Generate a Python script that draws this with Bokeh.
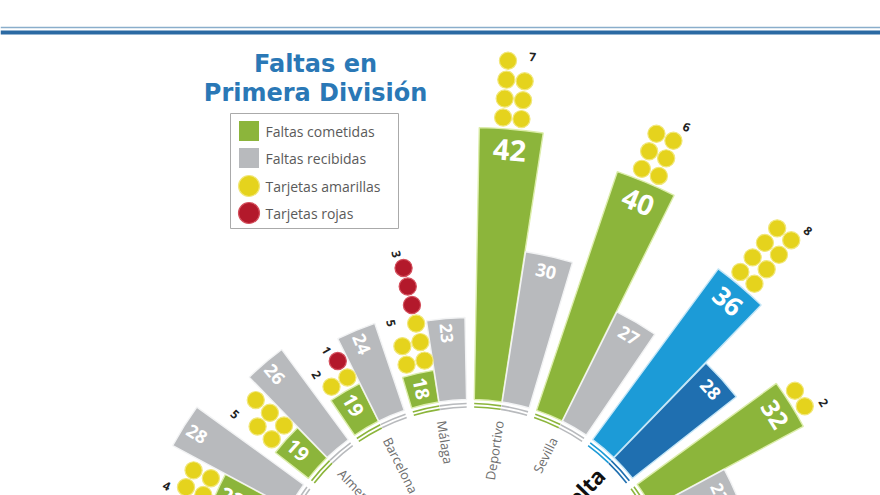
import math
from bokeh.plotting import figure
from bokeh.models import Range1d, ColumnDataSource
from bokeh.core.properties import value
from bokeh.embed import file_html
from bokeh.resources import INLINE

# ---------------- data ----------------
equipos = ["", "Almería", "Barcelona", "Málaga", "Deportivo", "Sevilla", "Celta", ""]
faltas_cometidas = [22, 19, 19, 18, 42, 40, 36, 32]
faltas_recibidas = [28, 26, 24, 23, 30, 27, 28, 23]
tarjetas_amarillas = [4, 5, 2, 5, 7, 6, 8, 2]
tarjetas_rojas = [0, 0, 1, 3, 0, 0, 0, 0]
equipo_destacado = "Celta"
titulo = ["Faltas en", "Primera División"]
leyenda = ["Faltas cometidas", "Faltas recibidas", "Tarjetas amarillas", "Tarjetas rojas"]

# ---------------- layout / style ----------------
W, H = 880, 495
CX, CY = 470.0, -110.0      # fan centre (data units = px)
R_ZERO = 58.0               # radius that corresponds to value 0
PX_PER = 10.0               # px per foul
R_BASE = 206.0              # visible base of bars
FIRST_DEG = 151.8
STEP_DEG = 17.65
HALF_DEG = 3.9
BAR_DEG = 7.7
DOT_R = 8.6
DOT_STEP = 19.0
COL_OFF = 9.2

GREEN, GREEN_EDGE = "#8cb53b", "#dcedaa"
GREY, GREY_EDGE = "#b8babd", "#f2f3f4"
LBLUE, DBLUE, BLUE_EDGE = "#1c9bd7", "#1f6fb0", "#c4e6f7"
YELLOW, YELLOW_EDGE = "#e5d31d", "#f1e77a"
RED, RED_EDGE = "#b3192b", "#d4505d"
TITLE_C = "#2a78b6"

p = figure(width=W, height=H, x_range=Range1d(0, W), y_range=Range1d(0, H),
           output_backend="svg", toolbar_location=None, min_border=0,
           x_axis_type=None, y_axis_type=None, outline_line_color=None)
p.grid.visible = False
p.background_fill_color = "white"
p.border_fill_color = "white"


def polar(r, deg):
    a = math.radians(deg)
    return CX + r * math.cos(a), CY + r * math.sin(a)


def perp(deg):
    a = math.radians(deg)
    return -math.sin(a), math.cos(a)   # counter-clockwise unit vector


wedge = dict(start=[], end=[], outer=[], fill=[], edge=[])
stripes = dict(start=[], end=[], r=[], color=[])
nums = dict(x=[], y=[], text=[], angle=[], fs=[])
dots = dict(x=[], y=[], fill=[], edge=[])
counts = dict(x=[], y=[], text=[], angle=[])
names = dict(x=[], y=[], text=[], angle=[], align=[])
hl = dict(x=[], y=[], text=[], angle=[], align=[])

for i, eq in enumerate(equipos):
    tp = FIRST_DEG - i * STEP_DEG
    right = tp < 90
    label_side = -1 if right else 1   # -1 clockwise, +1 counter-clockwise
    odd_side = -label_side
    highlight = eq == equipo_destacado
    bars = [(tp + HALF_DEG, faltas_cometidas[i], LBLUE if highlight else GREEN,
             BLUE_EDGE if highlight else GREEN_EDGE, True),
            (tp - HALF_DEG, faltas_recibidas[i], DBLUE if highlight else GREY,
             BLUE_EDGE if highlight else GREY_EDGE, False)]
    for th, v, col, edge, is_com in bars:
        rt = R_ZERO + PX_PER * v
        s, e = math.radians(th - BAR_DEG / 2), math.radians(th + BAR_DEG / 2)
        wedge["start"].append(s); wedge["end"].append(e)
        wedge["outer"].append(rt); wedge["fill"].append(col); wedge["edge"].append(edge)
        for rr in (202.0, 198.5):
            stripes["start"].append(s); stripes["end"].append(e)
            stripes["r"].append(rr); stripes["color"].append(col)
        fs = 12 + 0.4 * v if is_com else 14 + 0.15 * v
        rtx = rt - 0.55 * fs - 5
        x, y = polar(rtx, th)
        nums["x"].append(x); nums["y"].append(y); nums["text"].append(str(v))
        nums["angle"].append(math.radians(th - 90 if right else th - 180))
        nums["fs"].append(f"{fs:.0f}px")

    # cards above the 'cometidas' bar
    tg = tp + HALF_DEG
    rt = R_ZERO + PX_PER * faltas_cometidas[i]
    px, py = perp(tg)
    ang_lab = math.radians(tg - 90 if right else tg - 180)
    ny = tarjetas_amarillas[i]
    nr = tarjetas_rojas[i]
    for j in range(ny):
        row = j // 2
        if ny % 2 == 1 and j == ny - 1:
            side = odd_side
        else:
            side = 1 if j % 2 == 0 else -1
        cx, cy = polar(rt + 11 + row * DOT_STEP, tg)
        dots["x"].append(cx + side * COL_OFF * px); dots["y"].append(cy + side * COL_OFF * py)
        dots["fill"].append(YELLOW); dots["edge"].append(YELLOW_EDGE)
    yrows = (ny + 1) // 2
    if ny > 0:
        top = yrows - 1
        if ny % 2 == 1:
            rr, off = rt + 11 + top * DOT_STEP + 6, label_side * 15
        else:
            rr, off = rt + 11 + top * DOT_STEP + 18, label_side * 16
        cx, cy = polar(rr, tg)
        counts["x"].append(cx + off * px); counts["y"].append(cy + off * py)
        counts["text"].append(str(ny)); counts["angle"].append(ang_lab)
    for j in range(nr):
        cx, cy = polar(rt + 11 + (yrows + j) * DOT_STEP, tg)
        dots["x"].append(cx + odd_side * COL_OFF * px); dots["y"].append(cy + odd_side * COL_OFF * py)
        dots["fill"].append(RED); dots["edge"].append(RED_EDGE)
    if nr > 0:
        cx, cy = polar(rt + 11 + (yrows + nr - 1) * DOT_STEP + 15, tg)
        off = odd_side * COL_OFF + label_side * 4
        counts["x"].append(cx + off * px); counts["y"].append(cy + off * py)
        counts["text"].append(str(nr)); counts["angle"].append(ang_lab)

    # team name inside the base circle
    x, y = polar(187, tp)
    d = hl if highlight else names
    d["x"].append(x); d["y"].append(y); d["text"].append(eq)
    d["angle"].append(math.radians(tp if right else tp - 180))
    d["align"].append("right" if right else "left")

p.annular_wedge(x=CX, y=CY, inner_radius=R_BASE, outer_radius="outer",
                start_angle="start", end_angle="end", fill_color="fill", line_color="edge",
                line_width=1.4, source=ColumnDataSource(wedge))
p.arc(x=CX, y=CY, radius="r", start_angle="start", end_angle="end",
      line_color="color", line_width=1.6, source=ColumnDataSource(stripes))
p.text(x="x", y="y", text="text", angle="angle", text_font_size="fs",
       text_font=value("Open Sans"), text_font_style="bold", text_color="white",
       text_align="center", text_baseline="middle", source=ColumnDataSource(nums))
p.circle(x="x", y="y", radius=DOT_R, fill_color="fill", line_color="edge",
         line_width=1.2, source=ColumnDataSource(dots))
p.text(x="x", y="y", text="text", angle="angle", text_font_size="12px",
       text_font=value("Open Sans"), text_font_style="bold", text_color="#222222",
       text_align="center", text_baseline="middle", source=ColumnDataSource(counts))
p.text(x="x", y="y", text="text", angle="angle", text_align="align",
       text_font_size="13px", text_font=value("Open Sans"), text_color="#6e6e6e",
       text_baseline="middle", source=ColumnDataSource(names))
p.text(x="x", y="y", text="text", angle="angle", text_align="align",
       text_font_size="22px", text_font=value("Open Sans"), text_font_style="bold",
       text_color="#111111", text_baseline="middle", source=ColumnDataSource(hl))

# header rules
p.segment(x0=[0], y0=[468], x1=[W], y1=[468], line_color="#8aaecb", line_width=1.5)
p.segment(x0=[0], y0=[463], x1=[W], y1=[463], line_color="#2b6aa3", line_width=4)

# title
p.text(x=[315, 315], y=[432, 403], text=titulo, text_font=value("DejaVu Sans"),
       text_font_style="bold", text_font_size="24px", text_color=TITLE_C,
       text_align="center", text_baseline="middle")

# legend
p.rect(x=[314], y=[324.5], width=168, height=115, fill_color="white",
       line_color="#aaaaaa", line_width=1)
ly = [364.5, 337.5, 309.5, 282.5]
p.rect(x=[248.5, 248.5], y=ly[:2], width=20, height=20, fill_color=[GREEN, GREY], line_color=None)
p.circle(x=[248.5, 248.5], y=ly[2:], radius=10.5, fill_color=[YELLOW, RED],
         line_color=[YELLOW_EDGE, RED_EDGE], line_width=1.2)
p.text(x=[265] * 4, y=ly, text=leyenda, text_font=value("Open Sans"), text_font_size="14px",
       text_color="#5a5a5a", text_baseline="middle", text_align="left")

open("out.html", "w").write(file_html(p, INLINE))
